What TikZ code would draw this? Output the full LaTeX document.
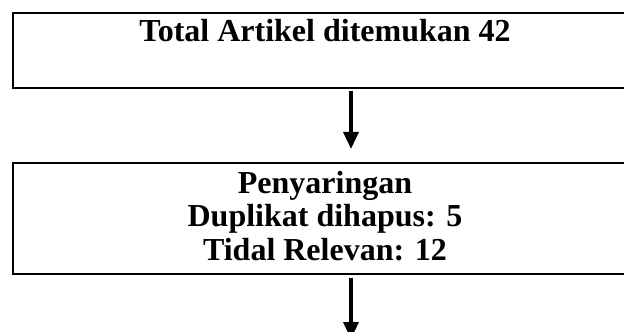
\documentclass[tikz,border=0pt]{standalone}
\usepackage{fontspec}
\setmainfont{Liberation Serif}
\usetikzlibrary{arrows.meta}

\begin{document}
\begin{tikzpicture}[x=0.5pt,y=-0.5pt,
    box/.style={draw,line width=1pt,minimum width=312pt,inner sep=0pt},
    boxtext/.style={anchor=base,inner sep=0pt,font=\fontsize{16pt}{18pt}\selectfont\bfseries},
    flow/.style={line width=1.65pt,-{Triangle[width=7.5pt,length=8.5pt]}}]

        % -----------
        % Parameters.
        % -----------

        % Constants.
        \pgfmathsetmacro{\xCenter}{325}     % x-position of box centres.
        \pgfmathsetmacro{\xArrow}{351}      % x-position of arrows.
        \pgfmathsetmacro{\lineSkip}{33.5}   % Distance between text lines.

        % Bounding box.
        \useasboundingbox(0,0)rectangle(624,331);

        % --------
        % Drawing.
        % --------

        % Total box.
        \node[box,minimum height=37.5pt](total)at(\xCenter,50.5){};
        \node[boxtext](totaltext)at(\xCenter,42){Total Artikel ditemukan 42};

        % Filter box.
        \node[box,minimum height=55.5pt](filter)at(\xCenter,218.5){};
        \node[boxtext](filterone)at(\xCenter,193){Penyaringan};
        \node[boxtext](filtertwo)at(\xCenter,193+\lineSkip){Duplikat dihapus: 5};
        \node[boxtext](filterthree)at(\xCenter,193+2*\lineSkip){Tidal Relevan: 12};

        % Arrows.
        \coordinate(axis)at(\xArrow,0);
        \coordinate(next)at(\xArrow,339);
        \draw[flow,shorten <=1pt,shorten >=6.5pt](total.south -| axis)--(filter.north -| axis);
        \draw[flow,shorten <=1.5pt](filter.south -| axis)--(next);

\end{tikzpicture}
\end{document}
